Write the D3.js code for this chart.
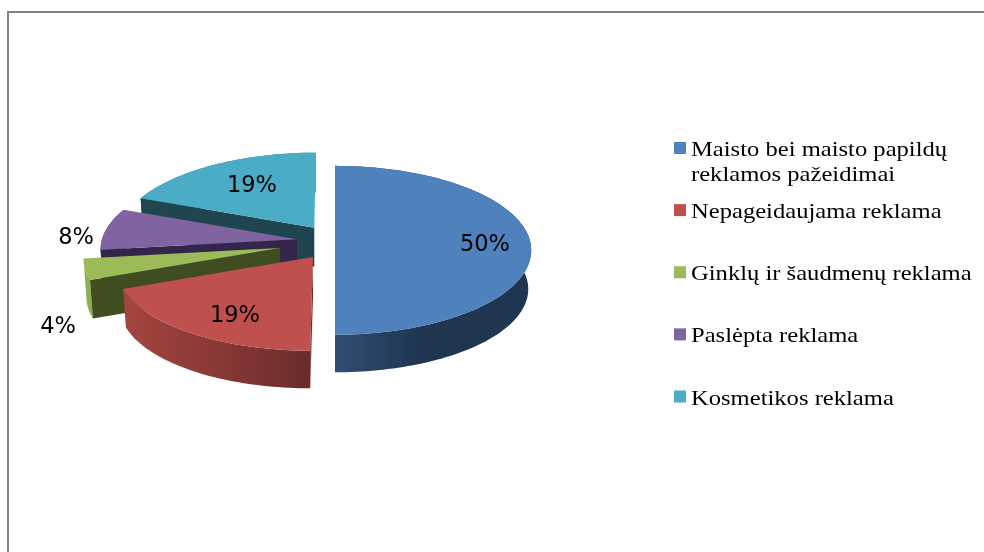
<!DOCTYPE html>
<html>
<head>
<meta charset="utf-8">
<script src="https://cdn.jsdelivr.net/npm/d3@7"></script>
<style>
html, body { margin: 0; padding: 0; background: #fff; overflow: hidden; }
svg { display: block; filter: blur(0.7px); }
</style>
</head>
<body>
<svg id="svg" width="984" height="552"></svg>
<script>
// chart data
var categories = ['Maisto bei maisto papildų|reklamos pažeidimai', 'Nepageidaujama reklama', 'Ginklų ir šaudmenų reklama', 'Paslėpta reklama', 'Kosmetikos reklama'];
var values = [50, 19, 4, 8, 19];

// slice colours: top face, cut wall, rim gradient left and right
var topColors = ['#4f81bd', '#c0504d', '#9bbb59', '#8064a2', '#4bacc6'];
var wallColors = ['#1f3550', '#6b2c2c', '#3f4d21', '#33264a', '#1f4650'];
var rimLeft = ['#2f4e73', '#a5453f', '#8fad52', '#5b4775', '#2f7f94'];
var rimRight = ['#1f3550', '#6b2c2c', '#8fad52', '#5b4775', '#2f7f94'];

// pie layout
var cx = 321.6, cy = 241;
var rx = 195, ry = 83.4, tilt = 0.11, depth = 39;
var explodeX = [13.4, 15.3, 43, 24.8, 13];
var explodeY = [0, 19.3, 28, 14, 16];
var shear = [0, -0.03, -0.03, -0.03, -0.02];
var labelPos = [[485, 243], [235, 314], [58, 325], [76, 236], [252, 184]];
var drawOrder = [4, 3, 2, 1, 0];

var svg = d3.select('#svg');
var defs = svg.append('defs');

// frame: only the top and left edges are inside the window
svg.append('path')
    .attr('d', 'M8,552V12H984')
    .attr('fill', 'none')
    .attr('stroke', '#808080')
    .attr('stroke-width', 2);

var slices = d3.pie().sort(null)(values);
var line = d3.line();

// angle on the pie to a point on the tilted disc, seen in perspective
function project(angle, r) {
    var x = Math.sin(angle) * r;
    var y = -Math.cos(angle) * r;
    var s = 1 / (1 - tilt * y);
    return [x * s * rx, y * s * ry];
}

function sliceApex(d, i) {
    var mid = (d.startAngle + d.endAngle) / 2;
    return [cx + Math.sin(mid) * explodeX[i], cy - Math.cos(mid) * explodeY[i]];
}

function rimPoints(d, apex, i) {
    var n = Math.ceil((d.endAngle - d.startAngle) * 40);
    return d3.range(n + 1).map(function (k) {
        var p = project(d.startAngle + (d.endAngle - d.startAngle) * k / n, 1);
        return [apex[0] + p[0] + p[1] * shear[i], apex[1] + p[1]];
    });
}

// the lower face shrinks a little towards the apex
function lower(p, apex) {
    return [apex[0] + (p[0] - apex[0]) * 0.985, apex[1] + (p[1] - apex[1]) * 0.985 + depth];
}

var groups = svg.append('g').attr('class', 'pie');

drawOrder.forEach(function (i) {
    var d = slices[i];
    var apex = sliceApex(d, i);
    var rim = rimPoints(d, apex, i);
    var g = groups.append('g');
    var first = rim[0];

    var grad = defs.append('linearGradient').attr('id', 'rim' + i);
    grad.append('stop').attr('offset', '0').attr('stop-color', rimLeft[i]);
    grad.append('stop').attr('offset', i === 0 ? '0.45' : '1').attr('stop-color', rimRight[i]);

    // outer rim
    var band = rim.concat(rim.map(function (p) { return lower(p, apex); }).reverse());
    g.append('path')
        .attr('d', line(band) + 'Z')
        .attr('fill', 'url(#rim' + i + ')');

    // the cut wall that faces the viewer
    g.append('path')
        .attr('d', line([apex, first, lower(first, apex), lower(apex, apex)]) + 'Z')
        .attr('fill', wallColors[i]);

    // top face
    g.append('path')
        .attr('d', line([apex].concat(rim)) + 'Z')
        .attr('fill', topColors[i]);
});

// percent labels
svg.append('g').selectAll('text').data(values).enter().append('text')
    .attr('x', function (d, i) { return labelPos[i][0]; })
    .attr('y', function (d, i) { return labelPos[i][1]; })
    .attr('dy', '0.36em')
    .attr('text-anchor', 'middle')
    .attr('font-family', '"DejaVu Sans", sans-serif')
    .attr('font-size', 22.5)
    .attr('fill', '#000')
    .text(function (d) { return d + '%'; });

// legend
var legendY = d3.scaleLinear().domain([0, categories.length - 1]).range([148, 396.5]);
var legend = svg.append('g').selectAll('g').data(categories).enter().append('g');

legend.append('rect')
    .attr('x', 674)
    .attr('y', function (d, i) { return legendY(i) - 6; })
    .attr('width', 12)
    .attr('height', 12)
    .attr('fill', function (d, i) { return topColors[i]; });

// the legend text is wider than plain Times, so stretch it sideways
legend.each(function (d, i) {
    var row = this;
    d.split('|').forEach(function (t, k) {
        d3.select(row).append('text')
            .attr('transform', 'translate(691,' + (legendY(i) + 8 + k * 24.5) + ') scale(1.118,1)')
            .attr('font-family', '"Liberation Serif", serif')
            .attr('font-size', 22)
            .attr('fill', '#000')
            .text(t);
    });
});
</script>
</body>
</html>
